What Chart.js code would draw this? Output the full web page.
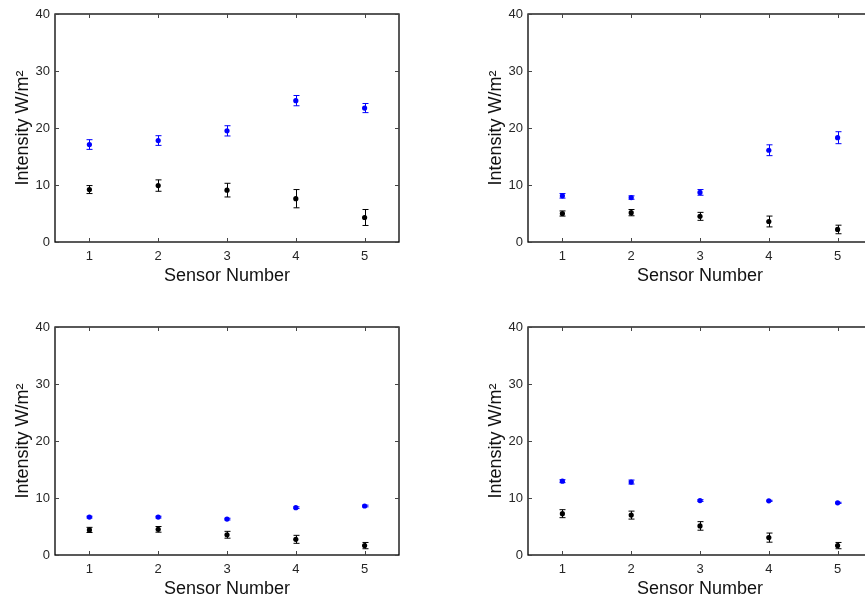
<!DOCTYPE html>
<html>
<head>
<meta charset="utf-8">
<script src="https://cdn.jsdelivr.net/npm/chart.js@4.4.1/dist/chart.umd.min.js"></script>
<style>
  html, body { margin: 0; padding: 0; background: #fff; overflow: hidden; width: 865px; height: 601px; }
  .panel { position: absolute; width: 420px; height: 300px; }
</style>
</head>
<body>
<div class="panel" style="left:0;top:0"><canvas id="c1" width="420" height="300"></canvas></div>
<div class="panel" style="left:473px;top:0"><canvas id="c2" width="420" height="300"></canvas></div>
<div class="panel" style="left:0;top:313px"><canvas id="c3" width="420" height="300"></canvas></div>
<div class="panel" style="left:473px;top:313px"><canvas id="c4" width="420" height="300"></canvas></div>
<script>
const sensors = ['1', '2', '3', '4', '5'];
const yTicks = [0, 10, 20, 30, 40];

// top left
const p1Blue = [17.1, 17.8, 19.5, 24.8, 23.5];
const p1BlueErr = [0.85, 0.85, 0.9, 0.9, 0.8];
const p1Black = [9.2, 9.9, 9.1, 7.6, 4.3];
const p1BlackErr = [0.7, 1.0, 1.2, 1.6, 1.4];
// top right
const p2Blue = [8.1, 7.8, 8.7, 16.1, 18.3];
const p2BlueErr = [0.4, 0.3, 0.5, 0.95, 1.05];
const p2Black = [5.0, 5.15, 4.5, 3.6, 2.2];
const p2BlackErr = [0.45, 0.55, 0.7, 0.95, 0.75];
// bottom left
const p3Blue = [6.65, 6.65, 6.3, 8.3, 8.6];
const p3BlueErr = [0.15, 0.15, 0.15, 0.15, 0.15];
const p3Black = [4.4, 4.5, 3.55, 2.75, 1.65];
const p3BlackErr = [0.45, 0.5, 0.6, 0.7, 0.55];
// bottom right
const p4Blue = [12.95, 12.8, 9.55, 9.5, 9.15];
const p4BlueErr = [0.25, 0.35, 0.15, 0.1, 0.1];
const p4Black = [7.25, 7.0, 5.1, 3.05, 1.65];
const p4BlackErr = [0.7, 0.7, 0.75, 0.8, 0.55];

const FONT = "'Liberation Sans', Arial, sans-serif";

const errorBars = { // vertical bars with caps, drawn under the dots
  id: 'errorBars',
  beforeDatasetsDraw(chart) {
    const ctx = chart.ctx, xs = chart.scales.x, ys = chart.scales.y;
    chart.data.datasets.forEach(ds => {
      ctx.save();
      ctx.strokeStyle = ds.borderColor;
      ctx.lineWidth = 1;
      ds.data.forEach((v, i) => {
        const px = Math.round(xs.getPixelForValue(i)) + 0.5;
        const top = ys.getPixelForValue(v + ds.errors[i]);
        const bot = ys.getPixelForValue(v - ds.errors[i]);
        ctx.beginPath();
        ctx.moveTo(px, top); ctx.lineTo(px, bot);
        ctx.moveTo(px - 3, top); ctx.lineTo(px + 3, top);
        ctx.moveTo(px - 3, bot); ctx.lineTo(px + 3, bot);
        ctx.stroke();
      });
      ctx.restore();
    });
  }
};

const frame = { // box round the plot with inward ticks on every side
  id: 'frame',
  afterDraw(chart) {
    const ctx = chart.ctx, a = chart.chartArea, xs = chart.scales.x, ys = chart.scales.y;
    ctx.save();
    ctx.strokeStyle = '#000';
    ctx.lineWidth = 1.3;
    ctx.strokeRect(a.left, a.top, a.right - a.left, a.bottom - a.top);
    ctx.lineWidth = 1;
    ctx.strokeStyle = '#444';
    ctx.beginPath();
    sensors.forEach((s, i) => {
      const px = Math.round(xs.getPixelForValue(i)) + 0.5;
      ctx.moveTo(px, a.bottom); ctx.lineTo(px, a.bottom - 4);
      ctx.moveTo(px, a.top); ctx.lineTo(px, a.top + 4);
    });
    yTicks.forEach(t => {
      const py = Math.round(ys.getPixelForValue(t)) + 0.5;
      ctx.moveTo(a.left, py); ctx.lineTo(a.left + 4, py);
      ctx.moveTo(a.right, py); ctx.lineTo(a.right - 4, py);
    });
    ctx.stroke();
    ctx.restore();
  }
};

function series(values, errs, color) {
  return {
    data: values,
    errors: errs,
    showLine: false,
    borderColor: color,
    backgroundColor: color,
    pointBackgroundColor: color,
    pointBorderWidth: 0,
    pointRadius: 2.6,
    pointStyle: 'circle'
  };
}

function makeChart(id, blue, blueErr, black, blackErr) {
  return new Chart(document.getElementById(id), {
    type: 'line',
    data: {
      labels: sensors,
      datasets: [series(blue, blueErr, '#0000ff'), series(black, blackErr, '#000000')]
    },
    options: {
      responsive: false,
      animation: false,
      layout: { padding: { top: 14, right: 21, left: 0, bottom: 0 } },
      plugins: { legend: { display: false }, tooltip: { enabled: false } },
      scales: {
        x: {
          type: 'category',
          offset: true,
          grid: { display: false, drawTicks: false },
          border: { display: false },
          ticks: { padding: 7, maxRotation: 0, color: '#262626', font: { family: FONT, size: 13 } },
          title: { display: true, text: 'Sensor Number', color: '#111',
                   font: { family: FONT, size: 18 }, padding: { top: 0, bottom: 13 } },
          afterFit: s => { s.height = 58; }
        },
        y: {
          min: 0, max: 40,
          afterBuildTicks: s => { s.ticks = yTicks.map(v => ({ value: v })); },
          grid: { display: false, drawTicks: false },
          border: { display: false },
          ticks: { padding: 5, color: '#262626', font: { family: FONT, size: 13 } },
          title: { display: true, text: 'Intensity W/m\u00B2', color: '#111',
                   font: { family: FONT, size: 18 }, padding: { top: 12, bottom: 0 } },
          afterFit: s => { s.width = 55; }
        }
      }
    },
    plugins: [errorBars, frame]
  });
}

makeChart('c1', p1Blue, p1BlueErr, p1Black, p1BlackErr);
makeChart('c2', p2Blue, p2BlueErr, p2Black, p2BlackErr);
makeChart('c3', p3Blue, p3BlueErr, p3Black, p3BlackErr);
makeChart('c4', p4Blue, p4BlueErr, p4Black, p4BlackErr);
</script>
</body>
</html>
